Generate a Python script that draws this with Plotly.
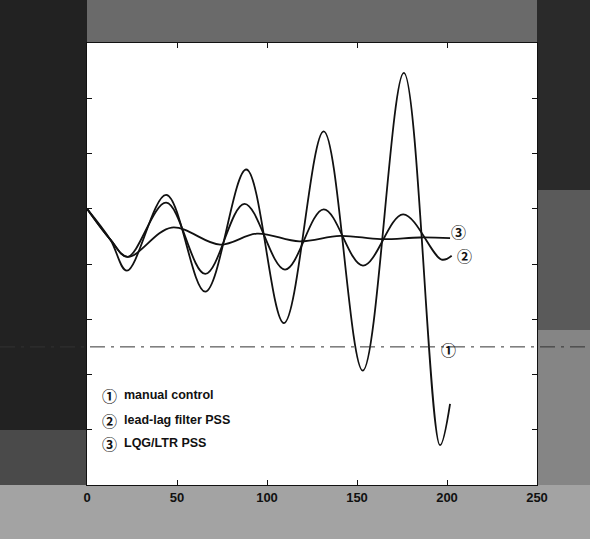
import plotly.graph_objects as go

# ---- data ----
t_manual = [0, 13, 22.2, 44, 65.7, 88.5, 109.4, 131.5, 153.2, 176, 196.1, 201.7]
v_manual = [1.0, 0.44, -0.12, 1.25, -0.50, 1.71, -1.07, 2.40, -1.93, 3.46, -3.28, -2.53]

t_leadlag = [0, 13, 22.6, 44, 65.7, 87.5, 110, 131.5, 153.3, 175.6, 197, 202.6]
v_leadlag = [1.0, 0.44, 0.13, 1.11, -0.18, 1.09, -0.10, 0.99, -0.03, 0.90, 0.08, 0.15]

t_lqg = [0, 13, 22.6, 47, 74, 94.4, 118, 140.6, 163, 185, 201.7]
v_lqg = [1.0, 0.44, 0.13, 0.66, 0.35, 0.55, 0.41, 0.51, 0.45, 0.48, 0.47]

x_ticks = [0, 50, 100, 150, 200, 250]
y_ticks = [-4, -3, -2, -1, 0, 1, 2, 3, 4]
ref_level = -1.5

legend_marks = ["①", "②", "③"]
legend_texts = ["manual control", "lead-lag filter PSS", "LQG/LTR PSS"]

# ---- layout geometry (pixels) ----
W, H = 590, 539
L, R, T, B = 87, 53, 43, 54
PW, PH = W - L - R, H - T - B


def px(x):
    return (x - L) / PW


def py(y):
    return (H - B - y) / PH


fig = go.Figure()
line = dict(color="#111111", width=1.8, shape="spline", smoothing=1.0)
for t, v, name in [(t_manual, v_manual, "manual control"),
                   (t_leadlag, v_leadlag, "lead-lag filter PSS"),
                   (t_lqg, v_lqg, "LQG/LTR PSS")]:
    fig.add_trace(go.Scatter(x=t, y=v, mode="lines", line=line, name=name,
                             showlegend=False, hoverinfo="skip"))

# scanned background bands
shapes = []


def band(x0, y0, x1, y1, color):
    shapes.append(dict(type="rect", xref="paper", yref="paper",
                       x0=px(x0), x1=px(x1), y0=py(y1), y1=py(y0),
                       fillcolor=color, line=dict(width=0), layer="below"))


band(0, 0, W, 43, "#6a6a6a")
band(0, 0, 87, 430, "#222222")
band(0, 430, 87, 485, "#4a4a4a")
band(537, 0, W, 190, "#2a2a2a")
band(537, 190, W, 330, "#5a5a5a")
band(537, 330, W, 485, "#858585")
band(0, 485, W, H, "#a3a3a3")

# white plotting area
shapes.append(dict(type="rect", xref="paper", yref="paper", x0=0, x1=1, y0=0, y1=1,
                   fillcolor="white", line=dict(width=0), layer="below"))
# long dash-dot reference line running across the page
shapes.append(dict(type="line", xref="paper", yref="y", x0=px(0), x1=px(W),
                   y0=ref_level, y1=ref_level,
                   line=dict(color="#333333", width=1, dash="longdashdot")))

mark_font = dict(family="'Noto Sans CJK SC'", size=15, color="#111111", weight="bold")
text_font = dict(family="Arial", size=12.5, color="#111111", weight="bold")
annotations = []
for i, (mk, txt) in enumerate(zip(legend_marks, legend_texts)):
    yy = py([395, 420, 443][i])
    annotations.append(dict(x=px(109), y=yy, xref="paper", yref="paper", text=mk,
                            showarrow=False, xanchor="center", yanchor="middle",
                            font=mark_font))
    annotations.append(dict(x=px(122), y=yy, xref="paper", yref="paper", text=txt,
                            showarrow=False, xanchor="left", yanchor="middle",
                            font=text_font))
tag_pos = [(t_manual[-1] - 1, ref_level - 0.05), (t_leadlag[-1] + 7, v_leadlag[-1]),
           (t_lqg[-1] + 4.5, v_lqg[-1] + 0.12)]
for tag, (tx, ty) in zip(legend_marks, tag_pos):
    annotations.append(dict(x=tx, y=ty, xref="x", yref="y", text=tag, showarrow=False,
                            xanchor="center", yanchor="middle", font=mark_font))

fig.update_layout(
    width=W, height=H,
    margin=dict(l=L, r=R, t=T, b=B, pad=0),
    paper_bgcolor="#9a9a9a", plot_bgcolor="white",
    shapes=shapes, annotations=annotations,
    xaxis=dict(range=[0, 250], tickvals=x_ticks, ticktext=[str(v) for v in x_ticks],
               ticks="inside", ticklen=5, tickcolor="#111", showline=True, linecolor="#111",
               linewidth=1, mirror="ticks", showgrid=False, zeroline=False,
               tickfont=dict(family="Arial", size=13, color="#111111", weight="bold")),
    yaxis=dict(range=[-4, 4], tickvals=y_ticks, showticklabels=False,
               ticks="inside", ticklen=5, tickcolor="#111", showline=True, linecolor="#111",
               linewidth=1, mirror="ticks", showgrid=False, zeroline=False),
)

fig.write_html("out.html", config={"displayModeBar": False},
               post_script="document.body.style.margin='0';document.body.style.padding='0';")
